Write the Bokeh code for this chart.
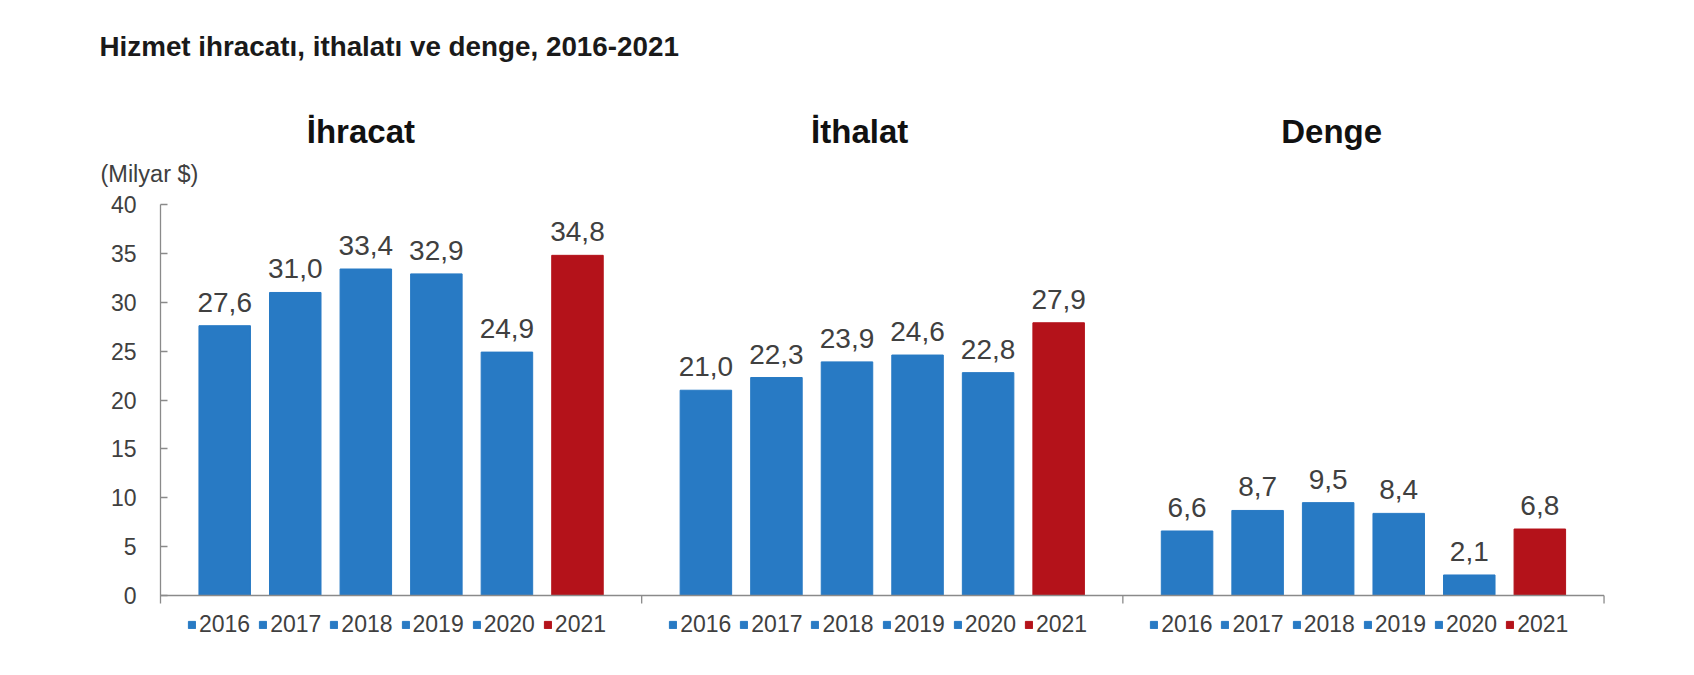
from bokeh.plotting import figure
from bokeh.models import (Range1d, FixedTicker, Label, Legend, LegendItem,
                          ColumnDataSource, LinearAxis)
from bokeh.core.properties import value
from bokeh.embed import file_html
from bokeh.resources import INLINE

# ---------------- data ----------------
title_text = "Hizmet ihracatı, ithalatı ve denge, 2016-2021"
unit_text = "(Milyar $)"
panels = ["İhracat", "İthalat", "Denge"]
years = ["2016", "2017", "2018", "2019", "2020", "2021"]
ihracat = [27.6, 31.0, 33.4, 32.9, 24.9, 34.8]
ithalat = [21.0, 22.3, 23.9, 24.6, 22.8, 27.9]
denge = [6.6, 8.7, 9.5, 8.4, 2.1, 6.8]
y_ticks = [0, 5, 10, 15, 20, 25, 30, 35, 40]

# ---------------- style / layout ----------------
BLUE = "#287AC4"
RED = "#B4121A"
year_colors = [BLUE, BLUE, BLUE, BLUE, BLUE, RED]
FONT = "Liberation Sans"
TXT = "#404040"
AXIS = "#8a8a8a"

W, H = 1678, 659
FL = 78                 # frame left (px)
AX_PX = 160             # px column of the value axis (x = 0)
BASE_PX, TOP_PX = 595, 204   # px rows of y=0 and y=40
Y_TOP_VAL = 40
ppu = (BASE_PX - TOP_PX) / Y_TOP_VAL
y_start = -(H - BASE_PX) / ppu
y_end = Y_TOP_VAL + TOP_PX / ppu

GW = 6.82               # group width in bar slots
N_GROUPS = 3
PPX = 70.55
x_start = -(AX_PX - FL) / PPX
x_end = N_GROUPS * GW + 0.12
RB = W - FL - round((x_end - x_start) * PPX)
BAR_W = 0.73
TICK_DOWN = 8 / ppu
panel_title_dx = [2.84, 3.09, 2.96]

def px_to_y(py):
    return Y_TOP_VAL + (TOP_PX - py) / ppu

def px_to_x(px):
    return (px - AX_PX) / PPX

p = figure(width=W, height=H, output_backend="svg", toolbar_location=None,
           x_range=Range1d(x_start, x_end), y_range=Range1d(y_start, y_end),
           x_axis_location=None, y_axis_location=None,
           min_border_left=FL, min_border_right=RB, min_border_top=0,
           min_border_bottom=0, background_fill_color="white",
           border_fill_color="white", outline_line_color=None)
p.grid.visible = False

yax = LinearAxis(fixed_location=0)
yax.ticker = FixedTicker(ticks=y_ticks)
yax.bounds = (-TICK_DOWN, Y_TOP_VAL)
yax.axis_line_color = AXIS
yax.axis_line_width = 1.3
yax.major_tick_line_color = AXIS
yax.major_tick_line_width = 1.3
yax.major_tick_in = 7
yax.major_tick_out = 0
yax.minor_tick_line_color = None
yax.major_label_standoff = 24
yax.major_label_text_font = FONT
yax.major_label_text_font_size = "23px"
yax.major_label_text_color = TXT
p.add_layout(yax, "left")

series = [ihracat, ithalat, denge]
offset0 = (GW - (len(years) - 1)) / 2

for g, vals in enumerate(series):
    xs = [g * GW + offset0 + i for i in range(len(vals))]
    src = ColumnDataSource(dict(
        x=xs, top=vals, color=year_colors, year=years,
        lab=[f"{v:.1f}".replace(".", ",") for v in vals]))
    r = p.vbar(x="x", top="top", bottom=0, width=BAR_W, fill_color="color",
               line_color="color", source=src)
    p.text(x="x", y="top", text="lab", source=src, text_align="center",
           text_baseline="bottom", y_offset=-14, text_font=value(FONT),
           text_font_size="28px", text_color=TXT)
    p.text(x=[g * GW + panel_title_dx[g]], y=[px_to_y(131)], text=[panels[g]],
           text_align="center", text_baseline="middle", text_font=value(FONT),
           text_font_size="33px", text_font_style="bold", text_color="#111111")
    items = [LegendItem(label=years[i], renderers=[r], index=i) for i in range(len(years))]
    leg = Legend(items=items, orientation="horizontal",
                 location=((AX_PX - FL) + g * GW * PPX + 27, 21),
                 glyph_width=9, glyph_height=9, label_standoff=3, spacing=8,
                 padding=0, margin=0, border_line_color=None,
                 background_fill_alpha=0, label_text_font=FONT,
                 label_text_font_size="23px", label_text_color=TXT)
    p.add_layout(leg)

# baseline and group separator ticks
p.segment(x0=[0], y0=[0], x1=[N_GROUPS * GW], y1=[0], line_color=AXIS, line_width=1.3)
p.segment(x0=[GW * (g + 1) for g in range(N_GROUPS)], y0=[0] * N_GROUPS,
          x1=[GW * (g + 1) for g in range(N_GROUPS)], y1=[-TICK_DOWN] * N_GROUPS,
          line_color=AXIS, line_width=1.3)

p.add_layout(Label(x=px_to_x(99), y=px_to_y(46), text=title_text,
                   text_align="left", text_baseline="middle",
                   text_font=FONT, text_font_size="27.8px",
                   text_font_style="bold", text_color="#1a1a1a"))
p.add_layout(Label(x=px_to_x(100), y=px_to_y(173), text=unit_text,
                   text_align="left", text_baseline="middle",
                   text_font=FONT, text_font_size="23.5px", text_color=TXT))

open("out.html", "w").write(file_html(p, INLINE))
